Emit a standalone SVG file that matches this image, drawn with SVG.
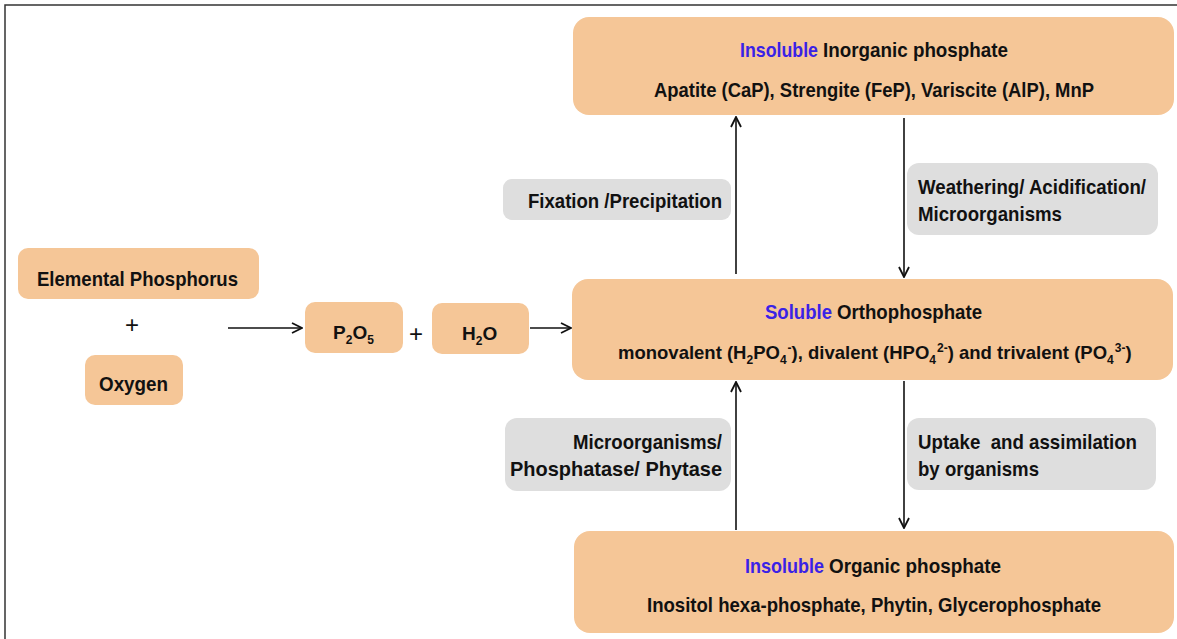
<svg xmlns="http://www.w3.org/2000/svg" width="1177" height="639" viewBox="0 0 1177 639">
<style>
.box{fill:#F5C697}
.lab{fill:#DEDEDE}
text{font-family:"Liberation Sans",Arial,sans-serif;font-weight:bold;font-size:21px;fill:#111}
.blue{fill:#3A22E6}
.plus{font-weight:normal;font-size:24px}
.f19{font-size:19px}
.f18{font-size:18.5px}
.s12{font-size:12px}
.conn{stroke:#111;stroke-width:1.6;fill:none}
</style>
<defs>
<marker id="ah" viewBox="0 0 12 12" refX="11" refY="6" markerWidth="12" markerHeight="12" markerUnits="userSpaceOnUse" orient="auto">
<path d="M1,1 L11,6 L1,11" fill="none" stroke="#111" stroke-width="1.8"/>
</marker>
</defs>
<rect width="1177" height="639" fill="#fff"/>
<path d="M5,639 L5,5 L1177,5" fill="none" stroke="#333" stroke-width="1.5"/>

<g id="connectors">
<line class="conn" x1="736" y1="274" x2="736" y2="117" marker-end="url(#ah)"/>
<line class="conn" x1="904" y1="118" x2="904" y2="277" marker-end="url(#ah)"/>
<line class="conn" x1="736" y1="530" x2="736" y2="382" marker-end="url(#ah)"/>
<line class="conn" x1="904" y1="381" x2="904" y2="528" marker-end="url(#ah)"/>
<line class="conn" x1="228" y1="328" x2="302" y2="328" marker-end="url(#ah)"/>
<line class="conn" x1="530" y1="328" x2="571" y2="328" marker-end="url(#ah)"/>
</g>

<g id="inorganic">
<rect class="box" x="573" y="17" width="601" height="98" rx="16"/>
<text class="blue" x="740" y="57" textLength="78" lengthAdjust="spacingAndGlyphs">Insoluble</text>
<text x="823" y="57" textLength="185" lengthAdjust="spacingAndGlyphs">Inorganic phosphate</text>
<text x="654" y="97" textLength="440" lengthAdjust="spacingAndGlyphs">Apatite (CaP), Strengite (FeP), Variscite (AlP), MnP</text>
</g>

<g id="ortho">
<rect class="box" x="572" y="279" width="601" height="101" rx="16"/>
<text class="blue" x="765" y="319" textLength="67" lengthAdjust="spacingAndGlyphs">Soluble</text>
<text x="837" y="319" textLength="145" lengthAdjust="spacingAndGlyphs">Orthophosphate</text>
<text class="f18" x="618" y="359">monovalent (H<tspan class="s12" dy="5">2</tspan><tspan dy="-5">PO</tspan><tspan class="s12" dy="5">4</tspan><tspan class="s12" dx="1" dy="-12">-</tspan><tspan dy="7">),  divalent (HPO</tspan><tspan class="s12" dy="5">4</tspan><tspan class="s12" dx="1" dy="-12">2-</tspan><tspan dy="7">)  and trivalent (PO</tspan><tspan class="s12" dy="5">4</tspan><tspan class="s12" dx="1" dy="-12">3-</tspan><tspan dy="7">)</tspan></text>
</g>

<g id="organic">
<rect class="box" x="574" y="531" width="600" height="102" rx="16"/>
<text class="blue" x="745" y="573" textLength="79" lengthAdjust="spacingAndGlyphs">Insoluble</text>
<text x="829" y="573" textLength="172" lengthAdjust="spacingAndGlyphs">Organic phosphate</text>
<text x="647" y="612" textLength="454" lengthAdjust="spacingAndGlyphs">Inositol hexa-phosphate, Phytin, Glycerophosphate</text>
</g>

<g id="elemental">
<rect class="box" x="18" y="248" width="241" height="51" rx="10"/>
<text x="37" y="286" textLength="201" lengthAdjust="spacingAndGlyphs">Elemental Phosphorus</text>
</g>
<g id="plus1"><text class="plus" x="132" y="333" text-anchor="middle">+</text></g>
<g id="oxygen">
<rect class="box" x="85" y="355" width="98" height="50" rx="10"/>
<text x="99" y="391" textLength="69" lengthAdjust="spacingAndGlyphs">Oxygen</text>
</g>
<g id="p2o5">
<rect class="box" x="305" y="302" width="98" height="51" rx="10"/>
<text class="f19" x="333" y="339">P<tspan class="s12" dy="5">2</tspan><tspan dy="-5">O</tspan><tspan class="s12" dy="5">5</tspan></text>
</g>
<g id="plus2"><text class="plus" x="416" y="342" text-anchor="middle">+</text></g>
<g id="h2o">
<rect class="box" x="432" y="303" width="97" height="51" rx="10"/>
<text class="f19" x="462" y="340">H<tspan class="s12" dy="5">2</tspan><tspan dy="-5">O</tspan></text>
</g>

<g id="fixation">
<rect class="lab" x="503" y="179" width="228" height="41" rx="9"/>
<text x="528" y="208" textLength="194" lengthAdjust="spacingAndGlyphs">Fixation /Precipitation</text>
</g>
<g id="weathering">
<rect class="lab" x="907" y="163" width="251" height="72" rx="12"/>
<text x="918" y="194" textLength="228" lengthAdjust="spacingAndGlyphs">Weathering/ Acidification/</text>
<text x="918" y="221" textLength="144" lengthAdjust="spacingAndGlyphs">Microorganisms</text>
</g>
<g id="mineralization">
<rect class="lab" x="505" y="418" width="226" height="73" rx="12"/>
<text x="722" y="449" text-anchor="end" textLength="149" lengthAdjust="spacingAndGlyphs">Microorganisms/</text>
<text x="722" y="476" text-anchor="end" textLength="212" lengthAdjust="spacingAndGlyphs">Phosphatase/ Phytase</text>
</g>
<g id="uptake">
<rect class="lab" x="907" y="418" width="249" height="72" rx="12"/>
<text x="918" y="449" textLength="219" lengthAdjust="spacingAndGlyphs" xml:space="preserve">Uptake  and assimilation</text>
<text x="918" y="476" textLength="121" lengthAdjust="spacingAndGlyphs">by organisms</text>
</g>
</svg>
